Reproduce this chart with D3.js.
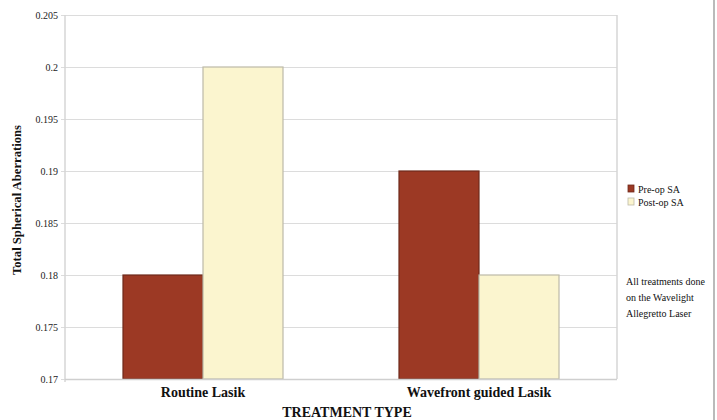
<!DOCTYPE html>
<html>
<head>
<meta charset="utf-8">
<script src="https://cdn.jsdelivr.net/npm/d3@7"></script>
<style>
  body { margin: 0; background: #fff; }
  svg { display: block; }
  text { font-family: "Liberation Serif", "DejaVu Serif", serif; }
</style>
</head>
<body>
<svg id="chart" width="717" height="420"></svg>
<script>
// Chart data
const categories = ["Routine Lasik", "Wavefront guided Lasik"];
const seriesNames = ["Pre-op SA", "Post-op SA"];
const preOp = [0.18, 0.19];
const postOp = [0.2, 0.18];
const yTicks = [0.17, 0.175, 0.18, 0.185, 0.19, 0.195, 0.2, 0.205];
const yTickLabels = ["0.17", "0.175", "0.18", "0.185", "0.19", "0.195", "0.2", "0.205"];
const noteLines = ["All treatments done", "on the Wavelight", "Allegretto Laser"];

const colors = ["#9c3924", "#fbf5cf"];
const strokes = ["#6e2a1c", "#bdbaa8"];
const serif = "'Liberation Serif', 'DejaVu Serif', serif";

const svg = d3.select("#chart");
const plot = { left: 65, right: 617, top: 15, bottom: 379 };

const y = d3.scaleLinear().domain([0.17, 0.205]).range([plot.bottom, plot.top]);
const x0 = d3.scaleBand().domain(categories).range([plot.left, plot.right]).padding(0);
const groupWidth = 160;
const x1 = d3.scaleBand().domain(seriesNames).range([0, groupWidth]).padding(0);

// Gridlines with small tick marks to the left
svg.append("g").selectAll("line")
  .data(yTicks)
  .join("line")
  .attr("x1", plot.left - 4)
  .attr("x2", plot.right)
  .attr("y1", d => y(d) + 0.5)
  .attr("y2", d => y(d) + 0.5)
  .attr("stroke", "#dcdcdc")
  .attr("stroke-width", 1.2);

// Plot side borders
svg.append("line").attr("x1", plot.left).attr("x2", plot.left)
  .attr("y1", plot.top).attr("y2", plot.bottom + 3)
  .attr("stroke", "#d6d6d6").attr("stroke-width", 1.5);
svg.append("line").attr("x1", plot.right).attr("x2", plot.right)
  .attr("y1", plot.top).attr("y2", plot.bottom)
  .attr("stroke", "#d6d6d6").attr("stroke-width", 1.5);

// Outer frame edge on the right
svg.append("line").attr("x1", 714).attr("x2", 714)
  .attr("y1", 0).attr("y2", 420)
  .attr("stroke", "#a3a3a3").attr("stroke-width", 1.5);

// Y tick labels
svg.append("g").selectAll("text")
  .data(yTicks)
  .join("text")
  .attr("x", 58)
  .attr("y", d => y(d))
  .attr("dy", "0.35em")
  .attr("text-anchor", "end")
  .attr("font-family", serif)
  .attr("font-size", 10)
  .attr("fill", "#222")
  .text((d, i) => yTickLabels[i]);

// Bars
const rows = categories.map((c, i) => ({ cat: c, values: [preOp[i], postOp[i]] }));
const groups = svg.append("g").selectAll("g")
  .data(rows)
  .join("g")
  .attr("transform", d => `translate(${x0(d.cat) + x0.bandwidth() / 2 - groupWidth / 2},0)`);

groups.selectAll("rect")
  .data(d => d.values.map((v, j) => ({ key: seriesNames[j], v, j })))
  .join("rect")
  .attr("x", d => x1(d.key))
  .attr("y", d => y(d.v))
  .attr("width", x1.bandwidth())
  .attr("height", d => y(0.17) - y(d.v))
  .attr("fill", d => colors[d.j])
  .attr("stroke", d => strokes[d.j])
  .attr("stroke-width", 1.2);

// Baseline
svg.append("line").attr("x1", plot.left).attr("x2", plot.right)
  .attr("y1", plot.bottom + 0.5).attr("y2", plot.bottom + 0.5)
  .attr("stroke", "#cfcfcf").attr("stroke-width", 1.5);

// Category labels
svg.append("g").selectAll("text")
  .data(categories)
  .join("text")
  .attr("x", d => x0(d) + x0.bandwidth() / 2)
  .attr("y", 397)
  .attr("text-anchor", "middle")
  .attr("font-family", serif)
  .attr("font-size", 14)
  .attr("font-weight", "bold")
  .attr("fill", "#111")
  .text(d => d);

// Axis titles
svg.append("text")
  .attr("x", 347).attr("y", 417)
  .attr("text-anchor", "middle")
  .attr("font-family", serif)
  .attr("font-size", 14).attr("font-weight", "bold").attr("fill", "#111")
  .text("TREATMENT TYPE");

svg.append("text")
  .attr("transform", "translate(21,200) rotate(-90)")
  .attr("text-anchor", "middle")
  .attr("font-family", serif)
  .attr("font-size", 12.5).attr("font-weight", "bold").attr("fill", "#111")
  .attr("textLength", 150).attr("lengthAdjust", "spacingAndGlyphs")
  .text("Total Spherical Aberrations");

// Legend
const legend = svg.append("g").attr("transform", "translate(627,189)");
seriesNames.forEach((name, i) => {
  legend.append("rect")
    .attr("x", 1).attr("y", i * 13 - 4)
    .attr("width", 6).attr("height", 7)
    .attr("fill", colors[i]).attr("stroke", strokes[i]).attr("stroke-width", 0.8);
  legend.append("text")
    .attr("x", 11).attr("y", i * 13)
    .attr("dy", "0.35em")
    .attr("font-family", serif)
    .attr("font-size", 10).attr("fill", "#111")
    .text(name);
});

// Note
svg.append("g").selectAll("text")
  .data(noteLines)
  .join("text")
  .attr("x", 626)
  .attr("y", (d, i) => 285 + i * 16)
  .attr("font-family", serif)
  .attr("font-size", 10)
  .attr("fill", "#111")
  .text(d => d);
</script>
</body>
</html>
